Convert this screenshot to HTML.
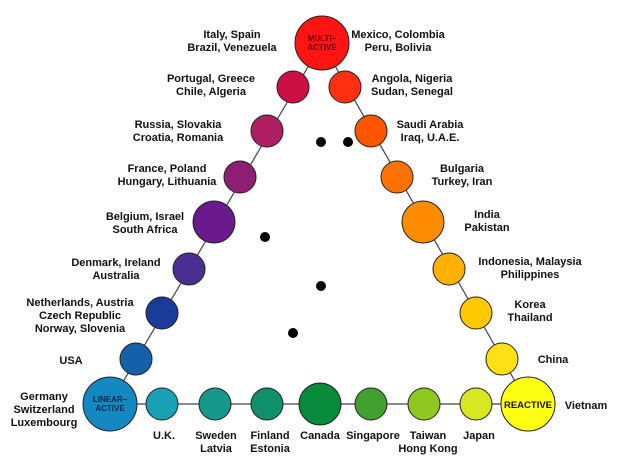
<!DOCTYPE html>
<html><head><style>body{margin:0;background:#fff}svg{display:block}text{font-family:"Liberation Sans",Arial,sans-serif;font-weight:bold;font-size:11px;fill:#111}</style></head><body>
<svg width="629" height="467" viewBox="0 0 629 467">
<g stroke="#444" stroke-width="1.2">
<line x1="322" y1="43" x2="110" y2="404"/><line x1="322" y1="43" x2="528" y2="404"/><line x1="110" y1="404" x2="528" y2="404"/>
</g>
<g stroke="#222" stroke-width="1">
<circle cx="322" cy="43" r="27" fill="#ff1414"/>
<circle cx="293" cy="87" r="16" fill="#cc1046"/>
<circle cx="267" cy="131" r="16" fill="#b01e62"/>
<circle cx="240" cy="177" r="16" fill="#8e1e72"/>
<circle cx="214" cy="222" r="21" fill="#6a1a8c"/>
<circle cx="189" cy="269" r="16" fill="#4a2e92"/>
<circle cx="162" cy="313" r="16" fill="#1a3c98"/>
<circle cx="136" cy="359" r="16" fill="#1560a8"/>
<circle cx="110" cy="404" r="27" fill="#1488c0"/>
<circle cx="162" cy="404" r="16" fill="#18a0b4"/>
<circle cx="215" cy="404" r="16" fill="#16988a"/>
<circle cx="267" cy="404" r="16" fill="#10906a"/>
<circle cx="320" cy="404" r="21" fill="#078a3a"/>
<circle cx="371" cy="404" r="16" fill="#42a030"/>
<circle cx="424" cy="404" r="16" fill="#90c822"/>
<circle cx="476" cy="404" r="16" fill="#d8e820"/>
<circle cx="528" cy="404" r="27" fill="#ffff14"/>
<circle cx="502" cy="359" r="16" fill="#ffe014"/>
<circle cx="476" cy="313" r="16" fill="#ffc800"/>
<circle cx="449" cy="269" r="16" fill="#ffb000"/>
<circle cx="423" cy="222" r="21" fill="#ff8c00"/>
<circle cx="397" cy="177" r="16" fill="#ff7200"/>
<circle cx="371" cy="131" r="16" fill="#ff5500"/>
<circle cx="345" cy="87" r="16" fill="#ff3010"/>
</g>
<g fill="#000">
<circle cx="321" cy="142" r="5"/><circle cx="348" cy="142" r="5"/><circle cx="265" cy="237" r="5"/><circle cx="321" cy="286" r="5"/><circle cx="293" cy="333" r="5"/>
</g>
<g text-anchor="middle">
<text x="322" y="41" style="font-size:8px;fill:#600">MULTI–</text><text x="322" y="50" style="font-size:8px;fill:#600">ACTIVE</text>
<text x="110" y="402" style="font-size:8px;fill:#0a2a50">LINEAR–</text><text x="110" y="411" style="font-size:8px;fill:#0a2a50">ACTIVE</text>
<text x="528" y="408" style="font-size:9.5px">REACTIVE</text>
<text x="232" y="38">Italy, Spain</text><text x="232" y="51">Brazil, Venezuela</text>
<text x="211" y="82">Portugal, Greece</text><text x="211" y="95">Chile, Algeria</text>
<text x="178" y="128">Russia, Slovakia</text><text x="178" y="141">Croatia, Romania</text>
<text x="167" y="172">France, Poland</text><text x="167" y="185">Hungary, Lithuania</text>
<text x="145" y="220">Belgium, Israel</text><text x="145" y="233">South Africa</text>
<text x="116" y="266">Denmark, Ireland</text><text x="116" y="279">Australia</text>
<text x="80" y="306">Netherlands, Austria</text><text x="80" y="319">Czech Republic</text><text x="80" y="332">Norway, Slovenia</text>
<text x="71" y="364">USA</text>
<text x="44" y="400">Germany</text><text x="44" y="413">Switzerland</text><text x="44" y="426">Luxembourg</text>
<text x="164" y="439">U.K.</text>
<text x="216" y="439">Sweden</text><text x="216" y="452">Latvia</text>
<text x="270" y="439">Finland</text><text x="270" y="452">Estonia</text>
<text x="320" y="439">Canada</text>
<text x="373" y="439">Singapore</text>
<text x="428" y="439">Taiwan</text><text x="428" y="452">Hong Kong</text>
<text x="479" y="439">Japan</text>
<text x="586" y="409">Vietnam</text>
<text x="553" y="363">China</text>
<text x="530" y="308">Korea</text><text x="530" y="321">Thailand</text>
<text x="530" y="265">Indonesia, Malaysia</text><text x="530" y="278">Philippines</text>
<text x="487" y="218">India</text><text x="487" y="231">Pakistan</text>
<text x="462" y="172">Bulgaria</text><text x="462" y="185">Turkey, Iran</text>
<text x="430" y="128">Saudi Arabia</text><text x="430" y="141">Iraq, U.A.E.</text>
<text x="412" y="82">Angola, Nigeria</text><text x="412" y="95">Sudan, Senegal</text>
<text x="398" y="38">Mexico, Colombia</text><text x="398" y="51">Peru, Bolivia</text>
</g>
</svg>
</body></html>
